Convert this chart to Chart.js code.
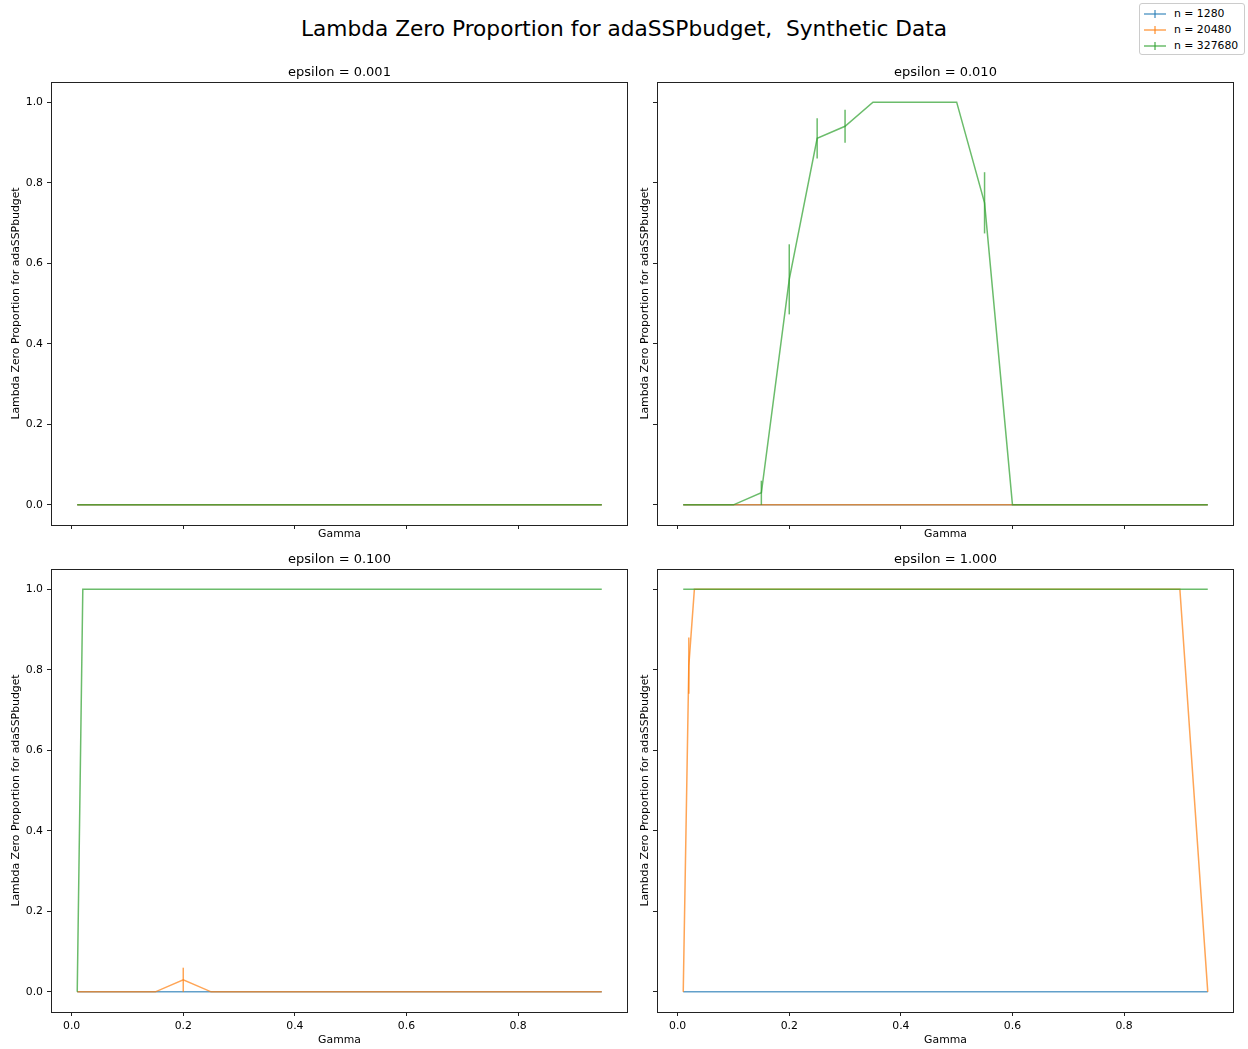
<!DOCTYPE html>
<html>
<head>
<meta charset="utf-8">
<script src="https://cdn.jsdelivr.net/npm/chart.js@4.4.0/dist/chart.umd.min.js"></script>
<style>
  body { margin: 0; width: 1248px; height: 1049px; background: #fff; position: relative; overflow: hidden; font-family: "DejaVu Sans", sans-serif; }
  canvas { position: absolute; }
  #suptitle { position: absolute; left: 0; width: 1248px; top: 18px; text-align: center; font-size: 21.7px; line-height: 21.7px; white-space: pre; color: #000; }
  #legend { position: absolute; left: 1139px; top: 3px; width: 104px; height: 50px; border: 1px solid #ccc; border-radius: 3px; background: #fff; font-size: 10.85px; color: #000; }
  .row { position: absolute; left: 0; height: 16px; line-height: 16px; white-space: nowrap; }
  .row svg { position: absolute; left: 3px; top: 3px; }
  .row span { position: absolute; left: 34px; }
</style>
</head>
<body>
<div id="suptitle">Lambda Zero Proportion for adaSSPbudget,  Synthetic Data</div>
<div id="legend"></div>
<canvas id="p0" width="679" height="490" style="left:0px;top:55px"></canvas>
<canvas id="p1" width="627" height="490" style="left:632px;top:55px"></canvas>
<canvas id="p2" width="679" height="507" style="left:0px;top:542px"></canvas>
<canvas id="p3" width="627" height="507" style="left:632px;top:542px"></canvas>
<script>
const gammas = [0.01, 0.02, 0.03, 0.04, 0.05, 0.1, 0.15, 0.2, 0.25, 0.3, 0.35, 0.4, 0.45, 0.5, 0.55, 0.6, 0.65, 0.7, 0.75, 0.8, 0.85, 0.9, 0.95];
const xTicks = [0, 0.2, 0.4, 0.6, 0.8];
const yTicks = [0, 0.2, 0.4, 0.6, 0.8, 1.0];
const sizes = ['n = 1280', 'n = 20480', 'n = 327680'];
const epsilons = ['0.001', '0.010', '0.100', '1.000'];
const colors = ['rgba(31,119,180,0.7)', 'rgba(255,127,14,0.7)', 'rgba(44,160,44,0.7)'];

// epsilon = 0.001
const eps001_n1280   = [0, 0, 0, 0, 0, 0, 0, 0, 0, 0, 0, 0, 0, 0, 0, 0, 0, 0, 0, 0, 0, 0, 0];
const eps001_n20480  = [0, 0, 0, 0, 0, 0, 0, 0, 0, 0, 0, 0, 0, 0, 0, 0, 0, 0, 0, 0, 0, 0, 0];
const eps001_n327680 = [0, 0, 0, 0, 0, 0, 0, 0, 0, 0, 0, 0, 0, 0, 0, 0, 0, 0, 0, 0, 0, 0, 0];
// epsilon = 0.010
const eps010_n1280   = [0, 0, 0, 0, 0, 0, 0, 0, 0, 0, 0, 0, 0, 0, 0, 0, 0, 0, 0, 0, 0, 0, 0];
const eps010_n20480  = [0, 0, 0, 0, 0, 0, 0, 0, 0, 0, 0, 0, 0, 0, 0, 0, 0, 0, 0, 0, 0, 0, 0];
const eps010_n327680 = [0, 0, 0, 0, 0, 0, 0.03, 0.56, 0.91, 0.94, 1, 1, 1, 1, 0.75, 0, 0, 0, 0, 0, 0, 0, 0];
const eps010_n327680_err = [0, 0, 0, 0, 0, 0, 0.03, 0.087, 0.05, 0.041, 0, 0, 0, 0, 0.076, 0, 0, 0, 0, 0, 0, 0, 0];
// epsilon = 0.100
const eps100_n1280   = [0, 0, 0, 0, 0, 0, 0, 0, 0, 0, 0, 0, 0, 0, 0, 0, 0, 0, 0, 0, 0, 0, 0];
const eps100_n20480  = [0, 0, 0, 0, 0, 0, 0, 0.03, 0, 0, 0, 0, 0, 0, 0, 0, 0, 0, 0, 0, 0, 0, 0];
const eps100_n20480_err = [0, 0, 0, 0, 0, 0, 0, 0.03, 0, 0, 0, 0, 0, 0, 0, 0, 0, 0, 0, 0, 0, 0, 0];
const eps100_n327680 = [0, 1, 1, 1, 1, 1, 1, 1, 1, 1, 1, 1, 1, 1, 1, 1, 1, 1, 1, 1, 1, 1, 1];
// epsilon = 1.000
const eps1_n1280   = [0, 0, 0, 0, 0, 0, 0, 0, 0, 0, 0, 0, 0, 0, 0, 0, 0, 0, 0, 0, 0, 0, 0];
const eps1_n20480  = [0, 0.81, 1, 1, 1, 1, 1, 1, 1, 1, 1, 1, 1, 1, 1, 1, 1, 1, 1, 1, 1, 1, 0];
const eps1_n20480_err = [0, 0.07, 0, 0, 0, 0, 0, 0, 0, 0, 0, 0, 0, 0, 0, 0, 0, 0, 0, 0, 0, 0, 0];
const eps1_n327680 = [1, 1, 1, 1, 1, 1, 1, 1, 1, 1, 1, 1, 1, 1, 1, 1, 1, 1, 1, 1, 1, 1, 1];

const panels = [
  { series: [eps001_n1280, eps001_n20480, eps001_n327680], errs: [null, null, null] },
  { series: [eps010_n1280, eps010_n20480, eps010_n327680], errs: [null, null, eps010_n327680_err] },
  { series: [eps100_n1280, eps100_n20480, eps100_n327680], errs: [null, eps100_n20480_err, null] },
  { series: [eps1_n1280, eps1_n20480, eps1_n327680], errs: [null, eps1_n20480_err, null] }
];

const font = 'DejaVu Sans';

// box around each plot area
const frame = {
  id: 'frame',
  afterDraw(chart) {
    const { ctx, chartArea: a } = chart;
    ctx.save();
    ctx.strokeStyle = '#222';
    ctx.lineWidth = 1;
    ctx.strokeRect(a.left + 0.5, a.top + 0.5, a.right - a.left - 1, a.bottom - a.top);
    ctx.restore();
  }
};

// vertical error bars
const errorBars = {
  id: 'errorBars',
  afterDatasetsDraw(chart) {
    const { ctx, scales: { x, y } } = chart;
    chart.data.datasets.forEach(ds => {
      if (!ds.errors) return;
      ctx.save();
      ctx.strokeStyle = ds.borderColor;
      ctx.lineWidth = 1.5;
      ds.data.forEach((p, j) => {
        const e = ds.errors[j];
        if (!e) return;
        const px = x.getPixelForValue(p.x);
        ctx.beginPath();
        ctx.moveTo(px, y.getPixelForValue(p.y - e));
        ctx.lineTo(px, y.getPixelForValue(p.y + e));
        ctx.stroke();
      });
      ctx.restore();
    });
  }
};

panels.forEach((p, k) => {
  const left = k % 2 === 0;
  const bottom = k >= 2;
  const datasets = p.series.map((vals, i) => ({
    label: sizes[i],
    data: vals.map((v, j) => ({ x: gammas[j], y: v })),
    errors: p.errs[i],
    borderColor: colors[i],
    borderWidth: 1.5,
    pointRadius: 0,
    tension: 0,
    fill: false,
    order: 3 - i
  }));
  new Chart(document.getElementById('p' + k), {
    type: 'line',
    data: { datasets },
    options: {
      responsive: false,
      animation: false,
      layout: { padding: { left: 0, top: 0, right: 0, bottom: bottom ? 2.5 : 4.5 } },
      plugins: {
        legend: { display: false },
        tooltip: { enabled: false },
        title: {
          display: true, text: 'epsilon = ' + epsilons[k], color: '#000',
          font: { family: font, size: 13, weight: 'normal' },
          padding: { top: 10, bottom: 1.4 }
        }
      },
      scales: {
        x: {
          type: 'linear', min: -0.037, max: 0.997,
          afterBuildTicks: s => { s.ticks = xTicks.map(v => ({ value: v })); },
          afterFit: s => { s.height = bottom ? 34.5 : 15.5; },
          ticks: { display: bottom, autoSkip: false, maxRotation: 0, padding: 4, color: '#000',
                   font: { family: font, size: 10.85 }, callback: v => v.toFixed(1) },
          grid: { drawOnChartArea: false, drawTicks: true, tickLength: 4, color: '#222', tickColor: '#222' },
          border: { display: false },
          title: { display: true, text: 'Gamma', color: '#000', font: { family: font, size: 10.85 }, padding: { top: 0, bottom: 0 } }
        },
        y: {
          type: 'linear', min: -0.05, max: 1.05,
          afterBuildTicks: s => { s.ticks = yTicks.map(v => ({ value: v })); },
          afterFit: s => { s.width = left ? 51 : 25; },
          ticks: { display: left, autoSkip: false, padding: 4, color: '#000',
                   font: { family: font, size: 10.85 }, callback: v => v.toFixed(1) },
          grid: { drawOnChartArea: false, drawTicks: true, tickLength: 4, color: '#222', tickColor: '#222' },
          border: { display: false },
          title: { display: true, text: 'Lambda Zero Proportion for adaSSPbudget', color: '#000',
                   font: { family: font, size: 10.85 }, padding: { top: left ? 9.5 : 6.5, bottom: 0 } }
        },
        // empty spacer on the right so the subplot title centres over the plot area
        spacer: {
          type: 'linear', position: 'right', min: 0, max: 1,
          afterFit: s => { s.width = left ? 51 : 25; },
          ticks: { display: false },
          grid: { display: false },
          border: { display: false }
        }
      }
    },
    plugins: [frame, errorBars]
  });
});

// figure legend
const legend = document.getElementById('legend');
sizes.forEach((s, i) => {
  const row = document.createElement('div');
  row.className = 'row';
  row.style.top = (2 + i * 16) + 'px';
  row.innerHTML = '<svg width="24" height="10"><line x1="1" y1="5" x2="23" y2="5" stroke="' + colors[i] +
    '" stroke-width="1.5"/><line x1="12" y1="1" x2="12" y2="9" stroke="' + colors[i] + '" stroke-width="1.5"/></svg>' +
    '<span>' + s + '</span>';
  legend.appendChild(row);
});
</script>
</body>
</html>
